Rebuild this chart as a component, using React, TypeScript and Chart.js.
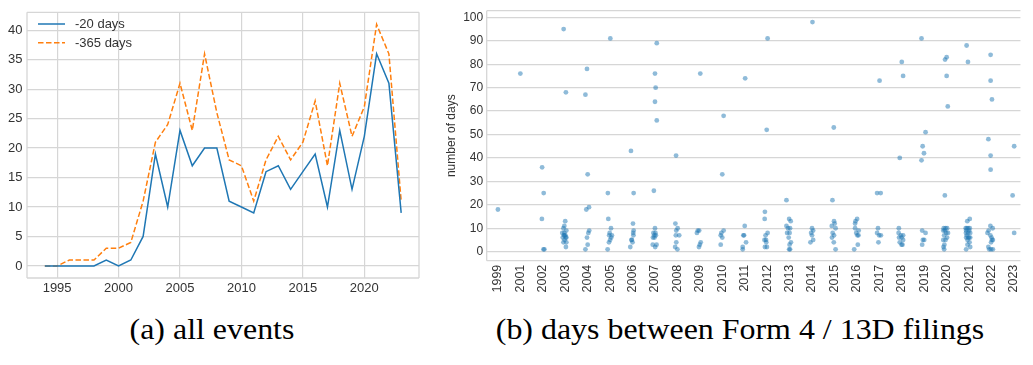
import React, { useEffect, useRef } from "react";
import { Chart, registerables } from "chart.js";

Chart.register(...registerables);

// ---------- left chart data ----------
const years = [1994, 1995, 1996, 1997, 1998, 1999, 2000, 2001, 2002, 2003, 2004, 2005, 2006, 2007, 2008, 2009, 2010, 2011, 2012, 2013, 2014, 2015, 2016, 2017, 2018, 2019, 2020, 2021, 2022, 2023];
const events20 = [0, 0, 0, 0, 0, 1, 0, 1, 5, 19, 10, 23, 17, 20, 20, 11, 10, 9, 16, 17, 13, 16, 19, 10, 23, 13, 22, 36, 31, 9];
const events365 = [0, 0, 1, 1, 1, 3, 3, 4, 11, 21, 24, 31, 23, 36, 26, 18, 17, 11, 18, 22, 18, 21, 28, 17, 31, 22, 27, 41, 36, 11];
const leftXTicks = [1995, 2000, 2005, 2010, 2015, 2020];
const leftYTicks = [0, 5, 10, 15, 20, 25, 30, 35, 40];
const seriesLabels = ["-20 days", "-365 days"];

// ---------- right chart data ----------
const stripYears = ["1999", "2001", "2002", "2003", "2004", "2005", "2006", "2007", "2008", "2009", "2010", "2011", "2012", "2013", "2014", "2015", "2016", "2017", "2018", "2019", "2020", "2021", "2022", "2023"];
const stripDays: number[][] = [
  [18],
  [76],
  [36, 25, 14, 1, 1],
  [95, 68, 13, 11, 10, 9, 8, 8, 7, 7, 7, 6, 6, 6, 5, 4, 4, 2],
  [78, 67, 33, 19, 18, 9, 8, 6, 3, 1],
  [91, 25, 14, 10, 8, 7, 7, 6, 5, 4, 1],
  [43, 25, 12, 9, 8, 7, 5, 5, 4, 2],
  [89, 76, 70, 64, 56, 26, 10, 8, 8, 7, 7, 6, 6, 3, 3, 2],
  [41, 12, 10, 9, 7, 7, 4, 2, 1],
  [76, 9, 9, 8, 4, 3, 2],
  [58, 33, 9, 8, 7, 6, 3],
  [74, 11, 7, 7, 4, 2, 1],
  [91, 52, 17, 14, 8, 7, 5, 5, 4, 2, 2],
  [22, 14, 13, 11, 10, 10, 8, 8, 6, 4, 3, 1, 1],
  [98, 10, 9, 8, 7, 5, 4],
  [53, 22, 13, 12, 11, 10, 8, 7, 6, 4, 1],
  [14, 13, 12, 10, 9, 8, 7, 7, 3, 1],
  [73, 25, 25, 10, 8, 7, 7, 4],
  [81, 75, 40, 10, 8, 7, 7, 6, 6, 5, 4, 3, 3],
  [91, 51, 45, 42, 39, 9, 8, 5, 5, 3],
  [83, 82, 75, 62, 24, 10, 10, 10, 9, 9, 8, 8, 7, 6, 5, 5, 3, 2, 1],
  [88, 81, 14, 13, 10, 10, 10, 10, 9, 9, 8, 8, 8, 7, 6, 6, 6, 6, 5, 4, 3, 2, 1],
  [84, 73, 65, 48, 41, 35, 11, 10, 9, 8, 7, 6, 5, 5, 4, 2, 1, 1, 1],
  [45, 24, 8],
];
// horizontal jitter of each strip point (category units)
const stripJitter: number[][] = [
  [0],
  [0],
  [-0.03, 0.04, -0.04, 0.03, 0.07],
  [-0.07, 0.03, 0, -0.04, -0.08, 0.05, -0.04, -0.13, -0.03, 0.01, -0.06, 0.02, -0.11, 0.05, -0.03, -0.08, 0.05, 0.03],
  [-0.03, -0.1, 0, 0.06, -0.06, 0.07, 0.03, -0.03, 0, -0.1],
  [0.01, -0.1, -0.08, 0.04, -0.02, 0.08, -0.04, 0.05, 0, -0.05, -0.11],
  [-0.07, 0.05, 0.02, 0.05, 0.03, 0.04, -0.05, -0.03, 0, -0.1],
  [0.08, 0, 0.03, 0, 0.08, -0.05, 0, -0.07, 0.02, 0.04, -0.03, -0.09, -0.02, -0.1, 0.07, 0.01],
  [-0.06, -0.09, 0.01, -0.05, -0.07, 0.08, -0.05, -0.1, 0],
  [0.02, -0.09, -0.03, -0.13, 0.04, 0, -0.04],
  [0.06, 0, 0.06, -0.04, -0.07, 0, -0.07],
  [0.02, 0, -0.06, -0.03, 0.06, -0.09, -0.09],
  [0.02, -0.02, -0.1, -0.11, 0.02, -0.07, -0.12, -0.05, -0.04, -0.1, -0.01],
  [-0.14, -0.02, 0.05, -0.14, -0.07, 0.02, -0.11, 0, -0.04, 0.06, 0, 0.02, -0.02],
  [0.02, 0, 0.05, -0.04, 0, 0.05, -0.07],
  [-0.03, -0.09, -0.02, 0.01, -0.12, 0.05, -0.08, -0.02, -0.11, -0.03, 0.05],
  [0.01, -0.06, -0.08, -0.08, 0.08, -0.03, 0.02, 0.07, 0.04, -0.12],
  [0.01, -0.1, 0.06, -0.06, -0.1, -0.01, 0.07, -0.04],
  [0, 0.06, -0.09, -0.13, -0.14, -0.04, 0.06, -0.12, -0.01, 0.06, -0.09, -0.01, 0.03],
  [-0.12, 0.06, -0.07, -0.01, -0.12, -0.09, 0.06, -0.06, 0, -0.09],
  [0, -0.07, 0, 0.05, -0.08, -0.13, -0.05, 0.02, -0.15, -0.08, -0.02, 0.06, -0.11, 0.02, -0.05, -0.15, -0.1, -0.14, -0.11],
  [-0.11, -0.05, 0.03, -0.08, -0.15, -0.1, -0.04, 0.03, -0.13, 0, -0.14, -0.04, 0.05, -0.1, 0, -0.13, -0.04, 0.05, -0.07, 0.02, -0.07, 0.05, -0.13],
  [-0.04, -0.04, 0.02, -0.14, -0.04, -0.04, -0.05, 0.05, -0.13, -0.18, -0.05, 0, 0.06, 0.02, -0.02, -0.14, -0.1, -0.02, 0.06],
  [0.01, -0.06, 0.01],
];
const rightYTicks = [0, 10, 20, 30, 40, 50, 60, 70, 80, 90, 100];

const captionA = "(a) all events";
const captionB = "(b) days between Form 4 / 13D filings";

const SANS = "'Liberation Sans', Arial, sans-serif";
const GRID = "#d6d6d6";
const TICK = "#333333";
const BLUE = "#1f77b4";
const ORANGE = "#ff7f0e";

const spinePlugin = (sides: string[]) => ({
  id: "spines",
  beforeDatasetsDraw(chart: any) {
    const { ctx, chartArea: a } = chart;
    ctx.save();
    ctx.strokeStyle = GRID;
    ctx.lineWidth = 1.3;
    ctx.beginPath();
    if (sides.includes("left")) { ctx.moveTo(a.left, a.top); ctx.lineTo(a.left, a.bottom); }
    if (sides.includes("right")) { ctx.moveTo(a.right, a.top); ctx.lineTo(a.right, a.bottom); }
    if (sides.includes("top")) { ctx.moveTo(a.left, a.top); ctx.lineTo(a.right, a.top); }
    if (sides.includes("bottom")) { ctx.moveTo(a.left, a.bottom); ctx.lineTo(a.right, a.bottom); }
    ctx.stroke();
    ctx.restore();
  },
});

const legendPlugin = {
  id: "innerLegend",
  afterDatasetsDraw(chart: any) {
    const { ctx } = chart;
    ctx.save();
    chart.data.datasets.forEach((ds: any, i: number) => {
      const y = 24 + i * 18.7;
      ctx.strokeStyle = ds.borderColor;
      ctx.lineWidth = ds.borderWidth;
      ctx.setLineDash(ds.borderDash || []);
      ctx.beginPath();
      ctx.moveTo(38, y);
      ctx.lineTo(65, y);
      ctx.stroke();
      ctx.setLineDash([]);
      ctx.fillStyle = TICK;
      ctx.font = `13px ${SANS}`;
      ctx.textBaseline = "middle";
      ctx.textAlign = "left";
      ctx.fillText(ds.label, 75, y + 0.5);
    });
    ctx.restore();
  },
};

function LeftChart() {
  const ref = useRef<HTMLCanvasElement>(null);
  useEffect(() => {
    const chart = new Chart(ref.current!, {
      type: "line",
      data: {
        datasets: [
          {
            label: seriesLabels[0],
            data: years.map((y, i) => ({ x: y, y: events20[i] })),
            borderColor: BLUE,
            borderWidth: 1.5,
            pointRadius: 0,
            tension: 0,
            fill: false,
          },
          {
            label: seriesLabels[1],
            data: years.map((y, i) => ({ x: y, y: events365[i] })),
            borderColor: ORANGE,
            borderWidth: 1.5,
            borderDash: [5.5, 2.5],
            pointRadius: 0,
            tension: 0,
            fill: false,
          },
        ],
      },
      options: {
        animation: false,
        responsive: false,
        devicePixelRatio: 1,
        layout: { padding: { top: 8, right: 6, left: 0, bottom: 0 } },
        plugins: { legend: { display: false }, tooltip: { enabled: false } },
        scales: {
          x: {
            type: "linear",
            min: 1992.55,
            max: 2024.45,
            afterBuildTicks: (s: any) => { s.ticks = leftXTicks.map((v) => ({ value: v })); },
            afterFit: (s: any) => { s.height = 22; },
            ticks: { callback: (v: any) => String(v), font: { family: SANS, size: 13 }, color: TICK, padding: 3, maxRotation: 0, autoSkip: false },
            grid: { color: GRID, lineWidth: 1.2, drawTicks: false },
            border: { display: false },
          },
          y: {
            type: "linear",
            min: -2.05,
            max: 43.05,
            afterBuildTicks: (s: any) => { s.ticks = leftYTicks.map((v) => ({ value: v })); },
            afterFit: (s: any) => { s.width = 27; },
            ticks: { callback: (v: any) => String(v), font: { family: SANS, size: 13 }, color: TICK, padding: 4.5 },
            grid: { color: GRID, lineWidth: 1.2, drawTicks: false },
            border: { display: false },
          },
        },
      },
      plugins: [spinePlugin(["left", "right", "top", "bottom"]), legendPlugin],
    } as any);
    return () => chart.destroy();
  }, []);
  return <canvas ref={ref} width={425} height={300} style={{ position: "absolute", left: 0, top: 0 }} />;
}

function RightChart() {
  const ref = useRef<HTMLCanvasElement>(null);
  useEffect(() => {
    const pts: { x: number; y: number }[] = [];
    stripDays.forEach((vals, i) => {
      vals.forEach((v, j) => pts.push({ x: i + stripJitter[i][j], y: v }));
    });
    const chart = new Chart(ref.current!, {
      type: "scatter",
      data: {
        datasets: [
          {
            data: pts,
            backgroundColor: "rgba(31,119,180,0.5)",
            borderWidth: 0,
            pointRadius: 2.4,
          },
        ],
      },
      options: {
        animation: false,
        responsive: false,
        devicePixelRatio: 1,
        layout: { padding: { top: 10.6, right: 0, left: 0, bottom: 0 } },
        plugins: { legend: { display: false }, tooltip: { enabled: false } },
        scales: {
          x: {
            type: "linear",
            min: -0.5,
            max: 23.29,
            afterBuildTicks: (s: any) => { s.ticks = stripYears.map((_, i) => ({ value: i })); },
            afterFit: (s: any) => { s.height = 39.3; },
            ticks: {
              callback: (v: any) => stripYears[v],
              font: { family: SANS, size: 12.5 },
              color: TICK,
              padding: 4,
              minRotation: 90,
              maxRotation: 90,
              autoSkip: false,
            },
            grid: { display: false, drawTicks: false },
            border: { display: false },
          },
          y: {
            type: "linear",
            min: -3.85,
            max: 102.85,
            afterBuildTicks: (s: any) => { s.ticks = rightYTicks.map((v) => ({ value: v })); },
            afterFit: (s: any) => { s.width = 56.7; },
            ticks: { callback: (v: any) => String(v), font: { family: SANS, size: 12 }, color: TICK, padding: 3.5 },
            grid: { color: GRID, lineWidth: 1.2, drawTicks: false },
            border: { display: false },
            title: {
              display: true,
              text: "number of days",
              font: { family: SANS, size: 12 },
              color: TICK,
              padding: { top: 14.8, bottom: 0 },
            },
          },
        },
      },
      plugins: [spinePlugin(["left", "top", "bottom"])],
    } as any);
    return () => chart.destroy();
  }, []);
  return <canvas ref={ref} width={603} height={300} style={{ position: "absolute", left: 430, top: 0 }} />;
}

const captionStyle: React.CSSProperties = {
  position: "absolute",
  top: 314,
  width: 600,
  textAlign: "center",
  fontFamily: "'Liberation Serif', 'Times New Roman', serif",
  fontSize: 28.5,
  lineHeight: "32px",
  transform: "scaleX(1.12)",
  transformOrigin: "center",
  color: "#000",
  whiteSpace: "nowrap",
};

export default function App() {
  return (
    <div style={{ position: "absolute", left: 0, top: 0, width: 1033, height: 365, background: "#fff", overflow: "hidden" }}>
      <LeftChart />
      <RightChart />
      <div style={{ ...captionStyle, left: 211.5 - 300 }}>{captionA}</div>
      <div style={{ ...captionStyle, left: 739.5 - 300 }}>{captionB}</div>
    </div>
  );
}
